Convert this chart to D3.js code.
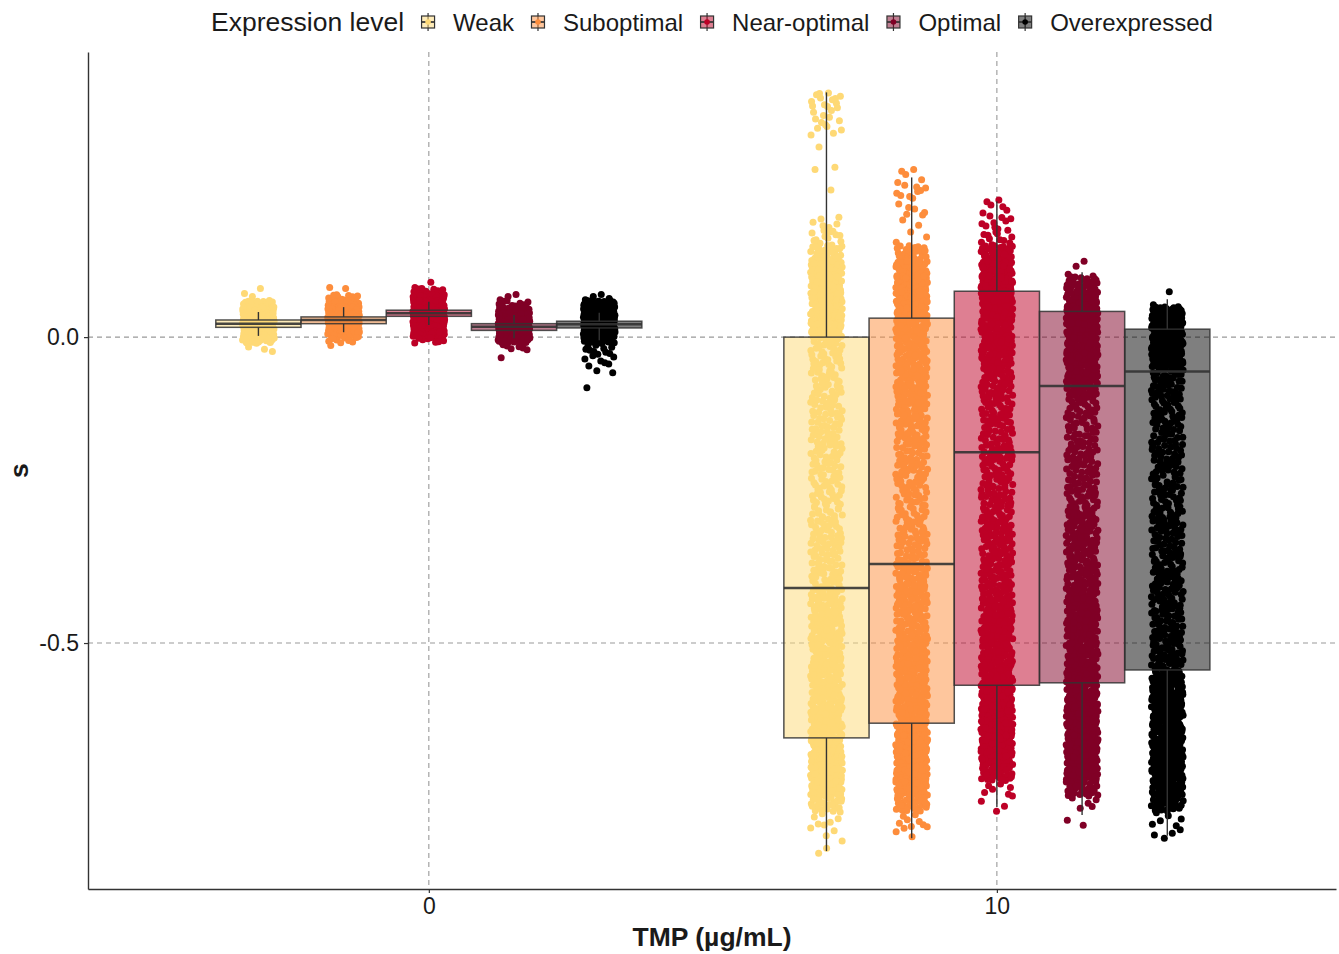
<!DOCTYPE html>
<html>
<head>
<meta charset="utf-8">
<script src="https://cdn.jsdelivr.net/npm/d3@7"></script>
<style>
body { margin: 0; background: #fff; }
svg text { font-family: "Liberation Sans", Arial, Helvetica, sans-serif; fill: #1a1a1a; }
</style>
</head>
<body>
<div id="chart"></div>
<script>
// categories / ticks
var expressionLevels = ["Weak", "Suboptimal", "Near-optimal", "Optimal", "Overexpressed"];
var tmpDoses = [0, 10];
var xTickValues = [0, 10];
var yTickValues = [0, -0.5];

// boxplot stats per level: [lower whisker, Q1, median, Q3, upper whisker]
var boxStatsTmp0 = [
    [0.002, 0.016, 0.022, 0.028, 0.041],
    [0.008, 0.022, 0.028, 0.033, 0.049],
    [0.020, 0.034, 0.039, 0.044, 0.058],
    [-0.002, 0.011, 0.017, 0.022, 0.036],
    [-0.005, 0.015, 0.021, 0.026, 0.040]
];
var boxStatsTmp10 = [
    [-0.840, -0.655, -0.410, 0.000, 0.400],
    [-0.819, -0.631, -0.371, 0.031, 0.261],
    [-0.768, -0.569, -0.188, 0.075, 0.222],
    [-0.781, -0.565, -0.080, 0.042, 0.106],
    [-0.815, -0.544, -0.056, 0.013, 0.062]
];

var binStepTmp0 = 0.01;
var binTopTmp0 = [0.08, 0.09, 0.09, 0.07, 0.07];
var pointCountsTmp0 = [
    [2, 1, 20, 40, 45, 45, 45, 40, 22, 3, 1],
    [1, 1, 12, 40, 45, 45, 45, 40, 35, 8, 1],
    [2, 15, 40, 45, 50, 50, 50, 50, 55, 8],
    [3, 8, 35, 45, 50, 50, 45, 30, 5, 1, 1],
    [4, 25, 45, 50, 50, 50, 40, 20, 6, 5, 4, 3, 2, 0, 0, 1]
];
var binStepTmp10 = 0.025;
var binTopTmp10 = [0.425, 0.275, 0.225, 0.125, 0.075];
var pointCountsTmp10 = [
    [0, 12, 8, 6, 1, 1, 1, 1, 0, 6, 14, 30, 42, 45, 45, 44, 42,
     20, 19, 18, 18, 17, 18, 18, 17, 18, 18, 17, 18, 19, 19, 20, 21, 22,
     26, 28, 29, 30, 31, 31, 32, 33, 34, 45,
     60, 60, 55, 25, 7, 4, 2],
    [5, 9, 5, 3, 3, 25, 40, 48, 50, 48, 36,
     34, 32, 30, 28, 26, 24, 22,
     20, 19, 18, 18, 18, 19, 20, 22, 26,
     28, 29, 30, 31, 32, 33, 34, 35, 36,
     40, 48, 50, 50, 46, 30, 7, 4],
    [6, 9, 12, 30, 48, 55, 48, 40, 36, 34, 30,
     24, 22, 21, 20, 20, 21,
     21, 21, 22, 22, 23, 23, 24, 25,
     27, 29, 31, 33, 35, 38,
     42, 50, 55, 56, 56, 55, 35, 6, 4],
    [3, 30, 50, 58, 55, 50, 44, 35, 26,
     20, 18, 17, 17, 18, 19, 20,
     22, 24, 26, 27, 28, 29,
     30, 31, 32, 33, 35, 38,
     44, 48, 50, 50, 50, 48, 30, 5, 2],
    [2, 45, 70, 65, 40, 26,
     22, 20, 19, 18, 18, 18, 19, 19, 20, 20, 20, 21, 21, 22, 22, 23, 24, 25, 27,
     40, 44, 46, 46, 46, 46, 45, 42, 30, 6, 4]
];

function ExpressionChart() {
    var self = this;
    self.init();
};

ExpressionChart.prototype.init = function () {
    var self = this;
    self.svgWidth = 1339;
    self.svgHeight = 954;
    self.panel = { left: 88, right: 1336, top: 52, bottom: 889 };

    self.svg = d3.select("#chart").append("svg")
        .attr("width", self.svgWidth)
        .attr("height", self.svgHeight);

    self.xScale = d3.scaleLinear().domain([-6.0, 15.97]).range([self.panel.left, self.panel.right]);
    self.yScale = d3.scaleLinear().domain([-0.902, 0.466]).range([self.panel.bottom, self.panel.top]);
    // dodge offsets in TMP units
    self.dodge = d3.scaleBand().domain(expressionLevels).range([-3.75, 3.75]);
    self.color = d3.scaleOrdinal().domain(expressionLevels)
        .range(["#fed976", "#fd8d3c", "#bd0026", "#800026", "#000000"]);
    self.jitter = 0.28;
};

// van der Corput / Halton value, used to spread points evenly (no randomness)
function halton(i, base) {
    var f = 1, r = 0;
    while (i > 0) {
        f = f / base;
        r += f * (i % base);
        i = Math.floor(i / base);
    }
    return r;
}

// spreads the counted points of each bin over the bin and the jitter width
ExpressionChart.prototype.makePoints = function (dose, level, counts, top, step) {
    var self = this;
    var center = dose + self.dodge(level) + self.dodge.bandwidth() / 2;
    var pts = [];
    var k = 7;
    counts.forEach(function (c, b) {
        var binTop = top - b * step;
        for (var j = 0; j < c; j++) {
            k++;
            var u = halton(k, 2);
            var v = halton(k, 3);
            pts.push({ level: level, x: center + (u - 0.5) * 2 * self.jitter, s: binTop - v * step });
        }
    });
    return pts;
};

ExpressionChart.prototype.update = function () {
    var self = this;
    var x = self.xScale, y = self.yScale;

    // dashed grid
    var grid = self.svg.append("g").attr("class", "grid")
        .attr("stroke", "#999").attr("stroke-width", 1.1).attr("stroke-dasharray", "5,4");
    grid.selectAll(".hgrid").data(yTickValues).join("line")
        .attr("class", "hgrid")
        .attr("x1", self.panel.left).attr("x2", self.panel.right)
        .attr("y1", d => y(d)).attr("y2", d => y(d));
    grid.selectAll(".vgrid").data(xTickValues).join("line")
        .attr("class", "vgrid")
        .attr("y1", self.panel.top).attr("y2", self.panel.bottom)
        .attr("x1", d => x(d)).attr("x2", d => x(d));

    // jittered points
    var points = [];
    expressionLevels.forEach(function (lvl, i) {
        points = points.concat(self.makePoints(tmpDoses[0], lvl, pointCountsTmp0[i], binTopTmp0[i], binStepTmp0));
        points = points.concat(self.makePoints(tmpDoses[1], lvl, pointCountsTmp10[i], binTopTmp10[i], binStepTmp10));
    });
    self.svg.append("g").attr("class", "points")
        .selectAll("circle").data(points).join("circle")
        .attr("cx", d => x(d.x))
        .attr("cy", d => y(d.s))
        .attr("r", 3.5)
        .attr("fill", d => self.color(d.level));

    // boxes
    var boxes = [];
    expressionLevels.forEach(function (lvl, i) {
        boxes.push({ dose: tmpDoses[0], level: lvl, st: boxStatsTmp0[i] });
        boxes.push({ dose: tmpDoses[1], level: lvl, st: boxStatsTmp10[i] });
    });
    var bw = self.dodge.bandwidth();
    var bg = self.svg.append("g").attr("class", "boxes")
        .selectAll("g").data(boxes).join("g");
    bg.append("line")
        .attr("x1", d => x(d.dose + self.dodge(d.level) + bw / 2))
        .attr("x2", d => x(d.dose + self.dodge(d.level) + bw / 2))
        .attr("y1", d => y(d.st[4])).attr("y2", d => y(d.st[3]))
        .attr("stroke", "#333").attr("stroke-width", 1.4);
    bg.append("line")
        .attr("x1", d => x(d.dose + self.dodge(d.level) + bw / 2))
        .attr("x2", d => x(d.dose + self.dodge(d.level) + bw / 2))
        .attr("y1", d => y(d.st[1])).attr("y2", d => y(d.st[0]))
        .attr("stroke", "#333").attr("stroke-width", 1.4);
    bg.append("rect")
        .attr("x", d => x(d.dose + self.dodge(d.level)))
        .attr("width", d => x(d.dose + self.dodge(d.level) + bw) - x(d.dose + self.dodge(d.level)))
        .attr("y", d => y(d.st[3]))
        .attr("height", d => y(d.st[1]) - y(d.st[3]))
        .attr("fill", d => self.color(d.level)).attr("fill-opacity", 0.5)
        .attr("stroke", "#333").attr("stroke-opacity", 0.85).attr("stroke-width", 1.5);
    bg.append("line")
        .attr("x1", d => x(d.dose + self.dodge(d.level)))
        .attr("x2", d => x(d.dose + self.dodge(d.level) + bw))
        .attr("y1", d => y(d.st[2])).attr("y2", d => y(d.st[2]))
        .attr("stroke", "#333").attr("stroke-opacity", 0.9).attr("stroke-width", 2.5);

    // axes
    var yAxis = d3.axisLeft(y).tickValues(yTickValues).tickSize(4).tickSizeOuter(0).tickPadding(5)
        .tickFormat(d => d.toFixed(1));
    var xAxis = d3.axisBottom(x).tickValues(xTickValues).tickSize(4).tickSizeOuter(0).tickPadding(5)
        .tickFormat(d => d);
    var ya = self.svg.append("g").attr("transform", "translate(" + self.panel.left + ",0)").call(yAxis);
    var xa = self.svg.append("g").attr("transform", "translate(0," + self.panel.bottom + ")").call(xAxis);
    [ya, xa].forEach(function (a) {
        a.select(".domain").attr("stroke", "#333").attr("stroke-width", 1.4);
        a.selectAll(".tick line").attr("stroke", "#333").attr("stroke-width", 1.2);
        a.selectAll(".tick text").attr("font-size", 23).attr("fill", "#1a1a1a")
            .style("font-family", "'Liberation Sans', Arial, sans-serif");
    });

    self.svg.append("text")
        .attr("x", (self.panel.left + self.panel.right) / 2)
        .attr("y", 946)
        .attr("text-anchor", "middle")
        .attr("font-size", 26.5).attr("font-weight", "bold")
        .text("TMP (µg/mL)");
    self.svg.append("text")
        .attr("transform", "translate(28," + (self.panel.top + self.panel.bottom) / 2 + ") rotate(-90)")
        .attr("text-anchor", "middle")
        .attr("font-size", 26.5).attr("font-weight", "bold")
        .text("s");

    self.drawLegend();
};

ExpressionChart.prototype.drawLegend = function () {
    var self = this;
    var legend = self.svg.append("g").attr("class", "legend");
    var gap = 24, cy = 22;
    var title = legend.append("text").attr("y", cy + 9).attr("font-size", 26.5).text("Expression level");
    var pos = title.node().getComputedTextLength();
    var items = [];
    expressionLevels.forEach(function (lvl) {
        var kx = pos + gap;
        var t = legend.append("text").attr("x", kx + gap + 1).attr("y", cy + 9).attr("font-size", 24).text(lvl);
        pos = kx + gap + 1 + t.node().getComputedTextLength();
        items.push({ level: lvl, kx: kx });
    });
    var key = legend.selectAll(".key").data(items).join("g").attr("class", "key")
        .attr("transform", d => "translate(" + d.kx + "," + cy + ")");
    key.append("line").attr("y1", -9).attr("y2", 9).attr("stroke", "#333").attr("stroke-width", 1.2);
    key.append("rect").attr("x", -6.5).attr("y", -6).attr("width", 13).attr("height", 12)
        .attr("fill", d => self.color(d.level)).attr("fill-opacity", 0.5)
        .attr("stroke", "#333").attr("stroke-width", 1.2);
    key.append("line").attr("x1", -6.5).attr("x2", 6.5).attr("stroke", "#333").attr("stroke-width", 1.7);
    key.append("circle").attr("r", 2.8).attr("fill", d => self.color(d.level));
    // centre the legend over the panel
    var mid = (self.panel.left + self.panel.right) / 2;
    legend.attr("transform", "translate(" + (mid - pos / 2) + ",0)");
};

var chart = new ExpressionChart();
chart.update();
</script>
</body>
</html>
